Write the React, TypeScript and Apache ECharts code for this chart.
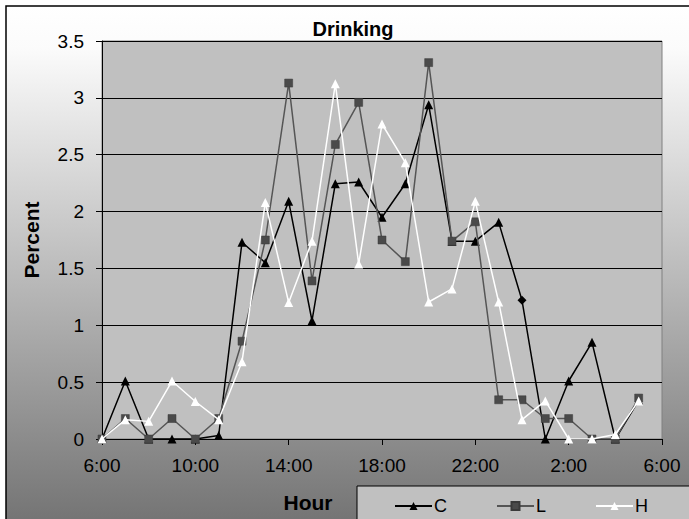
import React, { useEffect, useRef } from "react";
import * as echarts from "echarts";

const hourLabels = [
  "6:00", "7:00", "8:00", "9:00", "10:00", "11:00", "12:00", "13:00", "14:00", "15:00",
  "16:00", "17:00", "18:00", "19:00", "20:00", "21:00", "22:00", "23:00", "0:00", "1:00",
  "2:00", "3:00", "4:00", "5:00", "6:00",
];

const seriesC = [0, 0.51, 0, 0, 0, 0.03, 1.73, 1.55, 2.09, 1.04, 2.245, 2.26, 1.95, 2.245, 2.94, 1.74, 1.74, 1.905, 1.22, 0, 0.51, 0.85, 0, 0.34];
const seriesL = [0, 0.18, 0, 0.18, 0, 0.18, 0.86, 1.75, 3.13, 1.39, 2.59, 2.96, 1.75, 1.56, 3.31, 1.74, 1.91, 0.345, 0.345, 0.18, 0.18, 0, 0, 0.36];
const seriesH = [0, 0.17, 0.155, 0.51, 0.33, 0.17, 0.68, 2.08, 1.2, 1.74, 3.125, 1.54, 2.77, 2.43, 1.205, 1.32, 2.09, 1.205, 0.17, 0.335, 0, 0, 0.04, 0.335];

const diamondIndexC = 18;

const yTicks = { min: 0, max: 3.5, interval: 0.5 };

export default function App() {
  const ref = useRef<HTMLDivElement>(null);

  useEffect(() => {
    document.body.style.margin = "0";
    const chart = echarts.init(ref.current!, null, { renderer: "svg" });
    const font = "'Liberation Sans', Arial, sans-serif";
    chart.setOption({
      animation: false,
      textStyle: { fontFamily: font },
      graphic: [
        {
          type: "rect",
          z: -100,
          silent: true,
          shape: { x: 6, y: 6, width: 700, height: 530 },
          style: {
            fill: new echarts.graphic.LinearGradient(0, 0, 0, 1, [
              { offset: 0, color: "#ffffff" },
              { offset: 0.08, color: "#fbfbfb" },
              { offset: 1, color: "#707070" },
            ]),
            stroke: "#000",
            lineWidth: 1.5,
          },
        },
        {
          type: "rect",
          z: -50,
          silent: true,
          shape: { x: 357, y: 486, width: 340, height: 40 },
          style: { fill: "#c0c0c0", stroke: "#000", lineWidth: 1 },
        },
        {
          type: "text",
          x: 308,
          y: 502,
          style: {
            text: "Hour",
            font: `bold 21px ${font}`,
            fill: "#000",
            textAlign: "center",
            textVerticalAlign: "middle",
          },
        },
        {
          type: "text",
          x: 31,
          y: 240,
          rotation: Math.PI / 2,
          style: {
            text: "Percent",
            font: `bold 21px ${font}`,
            fill: "#000",
            textAlign: "center",
            textVerticalAlign: "middle",
          },
        },
      ],
      title: {
        text: "Drinking",
        left: 348,
        top: 14,
        textAlign: "center",
        textStyle: { fontSize: 20, fontWeight: "bold", color: "#000", fontFamily: font },
      },
      legend: {
        left: 389,
        top: 492,
        itemWidth: 37,
        itemHeight: 10,
        itemGap: 49,
        textStyle: { fontSize: 18, color: "#000", fontFamily: font, padding: [0, 0, 0, -3] },
        data: ["C", "L", "H"],
      },
      grid: {
        left: 102,
        top: 41,
        right: 27,
        bottom: 80,
        show: true,
        backgroundColor: "#c0c0c0",
        borderColor: "#808080",
        borderWidth: 1,
      },
      xAxis: {
        type: "category",
        data: hourLabels,
        boundaryGap: false,
        axisLine: { lineStyle: { color: "#000", width: 1 } },
        axisTick: { interval: 3, length: 6, lineStyle: { color: "#000" } },
        axisLabel: { interval: 3, fontSize: 19, color: "#000", margin: 17, fontFamily: font },
        splitLine: { show: false },
      },
      yAxis: {
        type: "value",
        min: yTicks.min,
        max: yTicks.max,
        interval: yTicks.interval,
        axisLine: { show: true, lineStyle: { color: "#000", width: 1 } },
        axisTick: { show: true, length: 6, lineStyle: { color: "#000" } },
        axisLabel: { fontSize: 19, color: "#000", margin: 18, fontFamily: font },
        splitLine: { show: true, lineStyle: { color: "#000", width: 1 } },
      },
      series: [
        {
          name: "C",
          type: "line",
          data: seriesC.map((v, i) =>
            i === diamondIndexC ? { value: v, symbol: "diamond", symbolSize: 9 } : v
          ),
          symbol: "triangle",
          symbolSize: 9,
          showAllSymbol: true,
          lineStyle: { color: "#000", width: 1.5 },
          itemStyle: { color: "#000" },
          z: 3,
        },
        {
          name: "L",
          type: "line",
          data: seriesL,
          symbol: "rect",
          symbolSize: 8,
          showAllSymbol: true,
          lineStyle: { color: "#555555", width: 1.5 },
          itemStyle: { color: "#4a4a4a", borderColor: "#3a3a3a", borderWidth: 0.5 },
          z: 4,
        },
        {
          name: "H",
          type: "line",
          data: seriesH,
          symbol: "triangle",
          symbolSize: 9,
          showAllSymbol: true,
          lineStyle: { color: "#ffffff", width: 1.5 },
          itemStyle: { color: "#ffffff" },
          z: 5,
        },
      ],
    });
    return () => chart.dispose();
  }, []);

  return <div ref={ref} style={{ width: 689, height: 519 }} />;
}
